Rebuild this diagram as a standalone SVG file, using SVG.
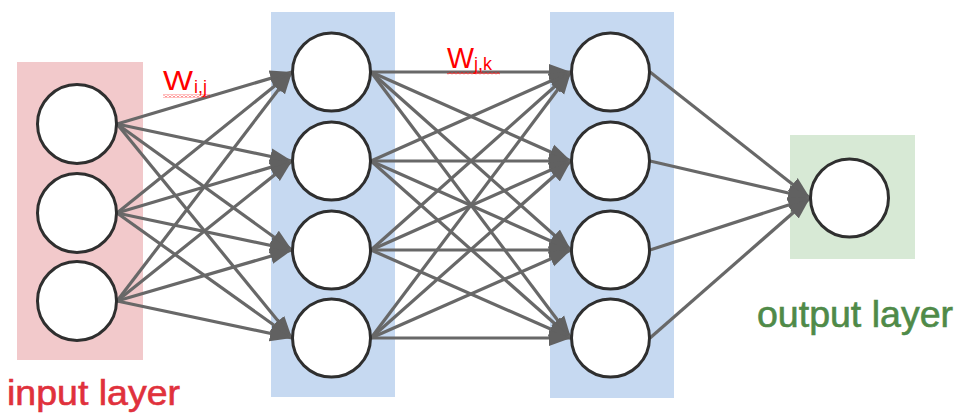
<svg xmlns="http://www.w3.org/2000/svg" width="965" height="419" viewBox="0 0 965 419">
  <style>
    .node circle { fill: #ffffff; stroke: #2f2f2f; stroke-width: 3; }
    .edge { stroke: #686868; stroke-width: 3.2; fill: none; marker-end: url(#arrow); }
    .lbl { font-family: "Liberation Sans", Arial, sans-serif; stroke-width: 0.6; }
    .w { fill: #ff0000; font-family: "Liberation Sans", Arial, sans-serif; }
  </style>
  <defs>
    <marker id="arrow" markerUnits="userSpaceOnUse" markerWidth="22" markerHeight="18" refX="22" refY="9" orient="auto">
      <path d="M0,1 L22,9 L0,17 Z" fill="#616161"/>
    </marker>
    <pattern id="squiggle" width="4" height="3" patternUnits="userSpaceOnUse">
      <path d="M0,2.5 L2,0.5 L4,2.5" stroke="#ff0000" stroke-width="1" fill="none"/>
    </pattern>
  </defs>
  <rect width="965" height="419" fill="#ffffff"/>

  <g id="layer-boxes">
    <rect id="input-box" x="17" y="62" width="126" height="298" fill="#f2c9cb"/>
    <rect id="hidden1-box" x="271" y="12" width="124" height="385" fill="#c6d9f1"/>
    <rect id="hidden2-box" x="550" y="12" width="124" height="386" fill="#c6d9f1"/>
    <rect id="output-box" x="790" y="135" width="125" height="124" fill="#d7e9d5"/>
  </g>

  <g id="connectors">
    <!-- input -> hidden1 -->
    <line class="edge" x1="117" y1="124" x2="292" y2="72"/>
    <line class="edge" x1="117" y1="124" x2="292" y2="161"/>
    <line class="edge" x1="117" y1="124" x2="292" y2="250"/>
    <line class="edge" x1="117" y1="124" x2="292" y2="338"/>
    <line class="edge" x1="117" y1="213" x2="292" y2="72"/>
    <line class="edge" x1="117" y1="213" x2="292" y2="161"/>
    <line class="edge" x1="117" y1="213" x2="292" y2="250"/>
    <line class="edge" x1="117" y1="213" x2="292" y2="338"/>
    <line class="edge" x1="117" y1="301" x2="292" y2="72"/>
    <line class="edge" x1="117" y1="301" x2="292" y2="161"/>
    <line class="edge" x1="117" y1="301" x2="292" y2="250"/>
    <line class="edge" x1="117" y1="301" x2="292" y2="338"/>
    <!-- hidden1 -> hidden2 -->
    <line class="edge" x1="371" y1="72" x2="571" y2="72"/>
    <line class="edge" x1="371" y1="72" x2="571" y2="161"/>
    <line class="edge" x1="371" y1="72" x2="571" y2="250"/>
    <line class="edge" x1="371" y1="72" x2="571" y2="338"/>
    <line class="edge" x1="371" y1="161" x2="571" y2="72"/>
    <line class="edge" x1="371" y1="161" x2="571" y2="161"/>
    <line class="edge" x1="371" y1="161" x2="571" y2="250"/>
    <line class="edge" x1="371" y1="161" x2="571" y2="338"/>
    <line class="edge" x1="371" y1="250" x2="571" y2="72"/>
    <line class="edge" x1="371" y1="250" x2="571" y2="161"/>
    <line class="edge" x1="371" y1="250" x2="571" y2="250"/>
    <line class="edge" x1="371" y1="250" x2="571" y2="338"/>
    <line class="edge" x1="371" y1="338" x2="571" y2="72"/>
    <line class="edge" x1="371" y1="338" x2="571" y2="161"/>
    <line class="edge" x1="371" y1="338" x2="571" y2="250"/>
    <line class="edge" x1="371" y1="338" x2="571" y2="338"/>
    <!-- hidden2 -> output -->
    <line class="edge" x1="650" y1="72" x2="810" y2="198"/>
    <line class="edge" x1="650" y1="161" x2="810" y2="198"/>
    <line class="edge" x1="650" y1="250" x2="810" y2="198"/>
    <line class="edge" x1="650" y1="338" x2="810" y2="198"/>
  </g>

  <g id="in1" class="node"><circle cx="77" cy="124" r="39.5"/></g>
  <g id="in2" class="node"><circle cx="77" cy="213" r="39.5"/></g>
  <g id="in3" class="node"><circle cx="77" cy="301" r="39.5"/></g>

  <g id="h1a" class="node"><circle cx="331.5" cy="72" r="39"/></g>
  <g id="h1b" class="node"><circle cx="331.5" cy="161" r="39"/></g>
  <g id="h1c" class="node"><circle cx="331.5" cy="250" r="39"/></g>
  <g id="h1d" class="node"><circle cx="331.5" cy="338" r="39"/></g>

  <g id="h2a" class="node"><circle cx="610.5" cy="72" r="39"/></g>
  <g id="h2b" class="node"><circle cx="610.5" cy="161" r="39"/></g>
  <g id="h2c" class="node"><circle cx="610.5" cy="250" r="39"/></g>
  <g id="h2d" class="node"><circle cx="610.5" cy="338" r="39"/></g>

  <g id="out1" class="node"><circle cx="849.5" cy="198" r="39"/></g>

  <g id="labels">
    <text class="lbl" x="7" y="405" font-size="35" fill="#e0313c" stroke="#e0313c" textLength="173" lengthAdjust="spacingAndGlyphs">input layer</text>
    <text class="lbl" x="757" y="327" font-size="36" fill="#4f8a48" stroke="#4f8a48" textLength="196" lengthAdjust="spacingAndGlyphs">output layer</text>

    <text class="w" x="163" y="90" font-size="28" textLength="30" lengthAdjust="spacingAndGlyphs">W</text>
    <text class="w" x="194" y="93" font-size="18">i,j</text>
    <rect x="163" y="94.5" width="47" height="3" fill="url(#squiggle)"/>

    <text class="w" x="447" y="68" font-size="29" textLength="27" lengthAdjust="spacingAndGlyphs">W</text>
    <text class="w" x="474" y="70" font-size="18">j,k</text>
    <rect x="447" y="71.5" width="53" height="3" fill="url(#squiggle)"/>
  </g>
</svg>
